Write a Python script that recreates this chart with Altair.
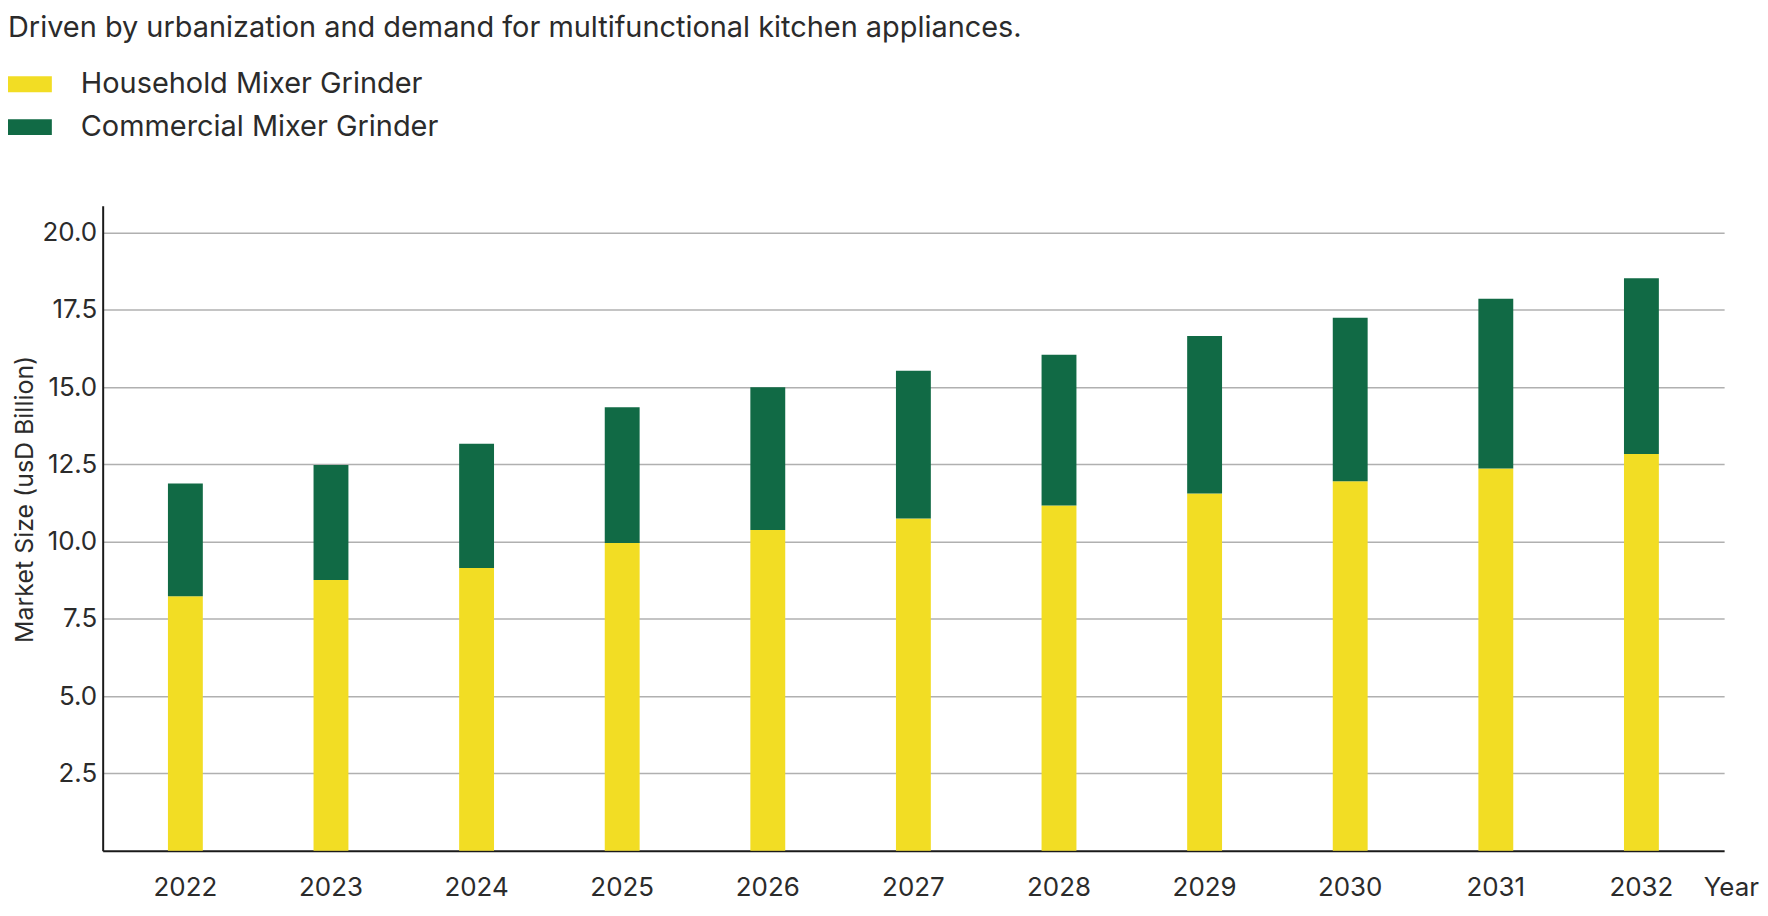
import altair as alt
import pandas as pd

years = ["2022", "2023", "2024", "2025", "2026", "2027", "2028", "2029", "2030", "2031", "2032"]
household = [8.23, 8.76, 9.15, 9.96, 10.38, 10.75, 11.17, 11.56, 11.96, 12.37, 12.84]
commercial = [3.65, 3.72, 4.02, 4.39, 4.62, 4.78, 4.88, 5.10, 5.29, 5.49, 5.69]
segments = ["Household Mixer Grinder", "Commercial Mixer Grinder"]
colors = ["#F2DD24", "#116A45"]
y_ticks = [2.5, 5.0, 7.5, 10.0, 12.5, 15.0, 17.5, 20.0]
headline = ["Driven by urbanization and demand for multifunctional kitchen appliances."]

rows = []
for i, yr in enumerate(years):
    rows.append({"Year": yr, "Segment": segments[0], "Value": household[i], "ord": 0})
    rows.append({"Year": yr, "Segment": segments[1], "Value": commercial[i], "ord": 1})
df = pd.DataFrame(rows)
df_head = pd.DataFrame({"t": headline})

FONT = "Inter"
TXT = "#2b2b2b"

bars = alt.Chart(df).mark_bar(size=35).encode(
    x=alt.X(
        "Year:N",
        sort=years,
        scale=alt.Scale(paddingInner=0, paddingOuter=0.068),
        axis=alt.Axis(
            title="Year",
            titleX=1606,
            titleY=45,
            titleAlign="left",
            titleBaseline="alphabetic",
            titleFontWeight="normal",
            titleFontSize=26,
            titleColor=TXT,
            labelAngle=0,
            labelFontSize=26,
            labelColor=TXT,
            labelBaseline="alphabetic",
            labelPadding=45,
            ticks=False,
            tickSize=0,
            domainColor="#1a1a1a",
            domainWidth=2,
            grid=False,
        ),
    ),
    y=alt.Y(
        "Value:Q",
        stack="zero",
        scale=alt.Scale(domain=[0, 20.87], nice=False, zero=True),
        axis=alt.Axis(
            title="Market Size (usD Billion)",
            values=y_ticks,
            format=".1f",
            titleX=-70,
            titleY=294,
            titleAngle=270,
            titleAlign="center",
            titleBaseline="alphabetic",
            titleFontWeight="normal",
            titleFontSize=25,
            titleColor=TXT,
            labelFontSize=26,
            labelColor=TXT,
            labelPadding=6,
            ticks=False,
            tickSize=0,
            domainColor="#1a1a1a",
            domainWidth=2,
            grid=True,
            gridColor="#b0b0b0",
            gridWidth=1.5,
        ),
    ),
    color=alt.Color(
        "Segment:N",
        scale=alt.Scale(domain=segments, range=colors),
        sort=segments,
        legend=alt.Legend(
            title=None,
            orient="none",
            legendX=-98,
            legendY=-144,
            direction="vertical",
            symbolType="M-1.136,-0.364H1.136V0.364H-1.136Z",
            symbolSize=1936,
            symbolStrokeWidth=0,
            symbolOpacity=1,
            labelFontSize=29,
            labelColor=TXT,
            labelFont=FONT,
            labelOffset=32,
            rowPadding=6,
            padding=0,
            labelLimit=600,
        ),
    ),
    order=alt.Order("ord:Q", sort="ascending"),
)

head = alt.Chart(df_head).mark_text(
    align="left", baseline="alphabetic", fontSize=29, color=TXT, font=FONT
).encode(
    x=alt.value(-95),
    y=alt.value(-169),
    text="t:N",
)

chart = alt.layer(bars, head).properties(
    width=1627,
    height=647,
    autosize=alt.AutoSizeParams(type="none"),
    padding={"left": 95, "top": 197, "right": 36, "bottom": 50},
).configure(
    font=FONT,
).configure_view(
    stroke=None,
)

chart.save("out.html", embed_options={"renderer": "svg", "actions": False})
